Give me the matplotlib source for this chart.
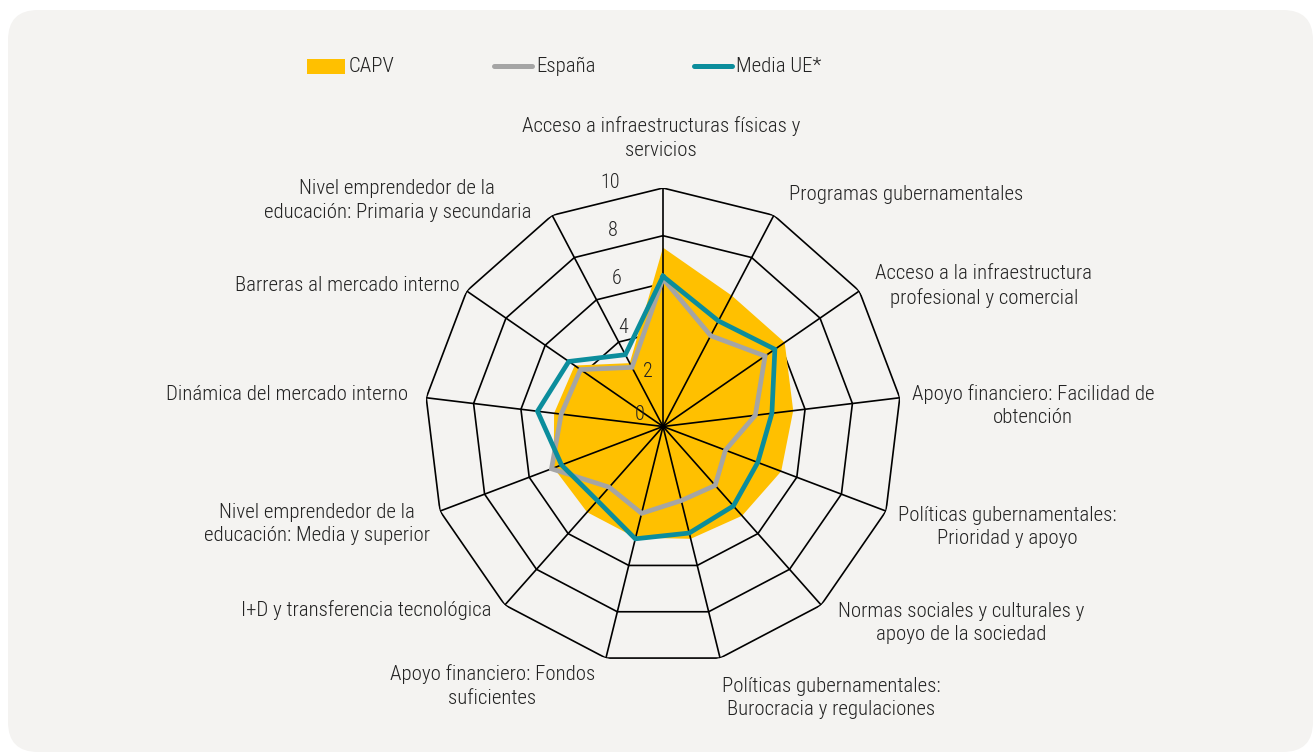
import numpy as np
import matplotlib
matplotlib.use("Agg")
import matplotlib.pyplot as plt
from matplotlib import font_manager
from matplotlib.patches import FancyBboxPatch, Rectangle
from matplotlib.lines import Line2D

# ----------------------------
# Data
# ----------------------------
categories = [
    "Acceso a infraestructuras físicas y\nservicios",
    "Programas gubernamentales",
    "Acceso a la infraestructura\nprofesional y comercial",
    "Apoyo financiero: Facilidad de\nobtención",
    "Políticas gubernamentales:\nPrioridad y apoyo",
    "Normas sociales y culturales y\napoyo de la sociedad",
    "Políticas gubernamentales:\nBurocracia y regulaciones",
    "Apoyo financiero: Fondos\nsuficientes",
    "I+D y transferencia tecnológica",
    "Nivel emprendedor de la\neducación: Media y superior",
    "Dinámica del mercado interno",
    "Barreras al mercado interno",
    "Nivel emprendedor de la\neducación: Primaria y secundaria",
]
capv = [7.5, 6.2, 6.2, 5.5, 5.3, 5.0, 4.85, 4.8, 4.8, 4.9, 4.6, 4.5, 3.0]
espana = [6.2, 4.3, 5.2, 3.9, 2.8, 3.3, 3.2, 3.75, 3.4, 5.0, 4.3, 4.2, 2.8]
media_ue = [6.3, 5.0, 5.7, 4.6, 4.25, 4.45, 4.6, 4.85, 4.15, 4.55, 5.3, 4.8, 3.4]
series_names = ["CAPV", "España", "Media UE*"]
ticks = [0, 2, 4, 6, 8, 10]

# ----------------------------
# Style
# ----------------------------
yellow = "#FFC000"
grey = "#A5A5A5"
teal = "#0B8D9C"
panel_bg = "#F4F3F1"

names = {f.name for f in font_manager.fontManager.ttflist}
font = "Roboto"
label_size = 13.2
for cand, size in [("Roboto Condensed", 15.0), ("Liberation Sans Narrow", 14.5)]:
    if cand in names:
        font, label_size = cand, size
        break
plt.rcParams["font.family"] = [font, "DejaVu Sans"]
plt.rcParams["font.weight"] = "light"
text_color = "#222222"

W, H = 1314, 754
fig = plt.figure(figsize=(W / 100, H / 100), dpi=100)
fig.patch.set_facecolor("white")

# rounded background panel (inches)
panel = FancyBboxPatch((0.08, 0.02), 13.05, 7.42,
                       boxstyle="round,pad=0,rounding_size=0.3",
                       transform=fig.dpi_scale_trans,
                       facecolor=panel_bg, edgecolor="none", zorder=0)
fig.add_artist(panel)

# polar axes placed so centre / radius match
cx, cy, R = 663.0, 426.5, 238.5
ax = fig.add_axes([(cx - R) / W, 1 - (cy + R) / H, 2 * R / W, 2 * R / H],
                  projection="polar")
ax.set_facecolor("none")
ax.set_theta_zero_location("N")
ax.set_theta_direction(-1)
ax.set_ylim(0, 10)
ax.grid(False)
ax.spines["polar"].set_visible(False)
ax.set_xticks([])
ax.set_yticks([])

n = len(categories)
theta = np.linspace(0, 2 * np.pi, n, endpoint=False)
theta_c = np.append(theta, theta[0])

def close(v):
    return np.append(v, v[0])

# rings (behind the fill)
for t in ticks[1:]:
    ax.plot(theta_c, np.full(n + 1, t), color="black", lw=1.2, zorder=1)

ax.fill(theta_c, close(capv), color=yellow, lw=0, zorder=2)

# spokes on top of the fill
for th in theta:
    ax.plot([th, th], [0, 10], color="black", lw=1.2, zorder=3)

ax.plot(theta_c, close(espana), color=grey, lw=3.4, zorder=4,
        solid_joinstyle="miter")
ax.plot(theta_c, close(media_ue), color=teal, lw=3.4, zorder=5,
        solid_joinstyle="miter")

# radial tick labels
tick_off = [(-23, 12), (-15, 7), (-40, 4), (-46, 5), (-50, 5), (-53, 5)]
for t, (dx, dy) in zip(ticks, tick_off):
    ax.annotate(str(t), xy=(0, t), xytext=(dx, dy), textcoords="offset pixels",
                ha="center", va="center", fontsize=14.5, color=text_color,
                annotation_clip=False, zorder=6)

# category labels: offset (pixels) from the outer vertex, plus alignment
label_pos = [
    (-2, 50, "center"), (15, 21, "left"), (16, 5, "left"), (12, -8, "left"),
    (12, -16, "left"), (17, -18, "left"), (2, -40, "left"), (-11, -28, "right"),
    (-13, -5, "right"), (-10, -13, "right"), (-18, 3, "right"), (-7, 6, "right"),
    (-21, 15, "right"),
]
for th, lab, (dx, dy, ha) in zip(theta, categories, label_pos):
    ax.annotate(lab, xy=(th, 10), xytext=(dx, dy), textcoords="offset pixels",
                ha=ha, va="center", multialignment="center",
                fontsize=label_size, color=text_color, linespacing=1.3,
                annotation_clip=False)

# legend drawn by hand in pixel positions
def fx(x):
    return x / W

def fy(y):
    return 1 - y / H

fig.add_artist(Rectangle((fx(307), fy(74)), 38 / W, 15 / H,
                         transform=fig.transFigure, facecolor=yellow,
                         edgecolor="none"))
fig.add_artist(Line2D([fx(494), fx(532)], [fy(66), fy(66)],
                      transform=fig.transFigure, color=grey, lw=3.6,
                      solid_capstyle="round"))
fig.add_artist(Line2D([fx(694), fx(732)], [fy(66), fy(66)],
                      transform=fig.transFigure, color=teal, lw=3.6,
                      solid_capstyle="round"))
for x, name in zip([349, 536, 736], series_names):
    fig.text(fx(x), fy(66), name, ha="left", va="center",
             fontsize=label_size, color=text_color)

fig.savefig("out.png", dpi=100, facecolor=fig.get_facecolor())
